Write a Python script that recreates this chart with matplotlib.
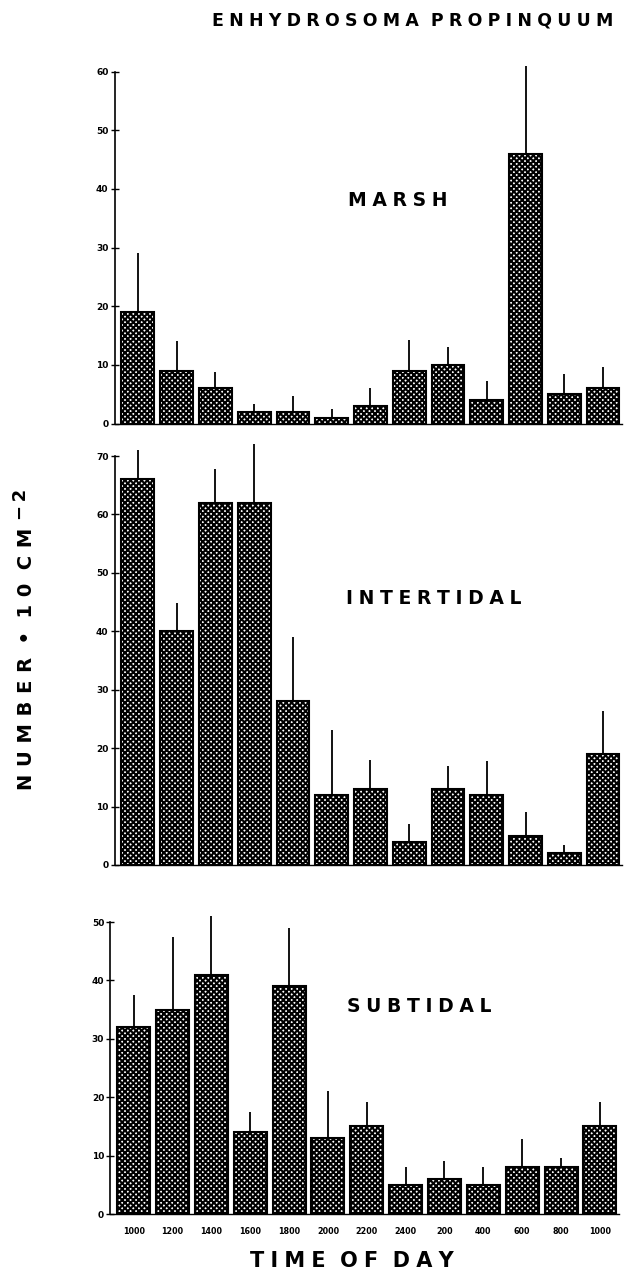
import numpy as np
import matplotlib as mpl
import matplotlib.pyplot as plt

mpl.rcParams['font.family'] = 'DejaVu Sans'
mpl.rcParams['font.weight'] = 'bold'
mpl.rcParams['hatch.linewidth'] = 1.5

times = ["1000", "1200", "1400", "1600", "1800", "2000", "2200",
         "2400", "200", "400", "600", "800", "1000"]

marsh = [19, 9, 6, 2, 2, 1, 3, 9, 10, 4, 46, 5, 6]
marsh_err = [10, 5, 2.7, 1.3, 2.7, 1.5, 3, 5.2, 3, 3.2, 15, 3.4, 3.6]

intertidal = [66, 40, 62, 62, 28, 12, 13, 4, 13, 12, 5, 2, 19]
intertidal_err = [5.1, 4.9, 5.8, 10, 11.1, 11.1, 5, 3, 4, 5.8, 4, 1.5, 7.3]

subtidal = [32, 35, 41, 14, 39, 13, 15, 5, 6, 5, 8, 8, 15]
subtidal_err = [5.5, 12.4, 10.1, 3.5, 10, 8.1, 4.2, 3, 3, 3, 4.9, 1.6, 4.2]

W, H = 633, 1275


def px_rect(left, right, bottom, top):
    # pixel box (from top-left) -> figure fraction
    return [left / W, 1 - bottom / H, (right - left) / W, (bottom - top) / H]


def spaced(s, gap="\u2009\u200a", wgap="  "):
    return wgap.join(gap.join(w) for w in s.split())


def px_text(x, y, s, **kw):
    fig.text(x / W, 1 - y / H, s, **kw)


panels = [
    ("MARSH", marsh, marsh_err, 60, px_rect(114.7, 622.4, 423.5, 71.5), (398, 200)),
    ("INTERTIDAL", intertidal, intertidal_err, 70, px_rect(114.7, 622.4, 865, 456), (434, 598)),
    ("SUBTIDAL", subtidal, subtidal_err, 50, px_rect(110.4, 619.3, 1214, 922), (419, 1007)),
]

fig = plt.figure(figsize=(W / 100, H / 100), dpi=100)

for i, (name, vals, errs, ymax, rect, lab) in enumerate(panels):
    ax = fig.add_axes(rect)
    x = np.arange(len(times))
    vals = np.array(vals)
    ax.bar(x, vals, width=0.85, color='white', edgecolor='black',
           hatch='xxxxxx', linewidth=1.5)
    ax.vlines(x, vals, vals + np.array(errs), color='black',
              linewidth=1.3, clip_on=False)
    ax.set_xlim(-0.6, 12.5)
    ax.set_ylim(0, ymax)
    ax.set_yticks(np.arange(0, ymax + 1, 10))
    ax.spines['top'].set_visible(False)
    ax.spines['right'].set_visible(False)
    ax.spines['left'].set_linewidth(1.2)
    ax.spines['bottom'].set_linewidth(1.0)
    ax.tick_params(axis='y', direction='inout', length=6, width=1,
                   pad=1.5, labelsize=6.5)
    ax.set_xticks(x)
    if i == 2:
        ax.set_xticklabels(times)
        ax.tick_params(axis='x', length=0, pad=9, labelsize=5.8)
    else:
        ax.tick_params(axis='x', length=0, labelbottom=False)
    px_text(lab[0], lab[1], spaced(name), fontsize=13.5, ha='center', va='center')

px_text(413, 20, spaced("ENHYDROSOMA PROPINQUUM"), fontsize=12.5,
        ha='center', va='center')
px_text(352, 1261, spaced("TIME OF DAY"), fontsize=15, ha='center', va='center')
px_text(27, 790, spaced("NUMBER \u2022 10 CM", gap="\u2009\u2009"), fontsize=14,
        rotation=90, ha='center', va='bottom')
px_text(21, 520, "\u2212\u20092", fontsize=13, rotation=90, ha='center', va='bottom')

fig.savefig("out.png", dpi=100)
